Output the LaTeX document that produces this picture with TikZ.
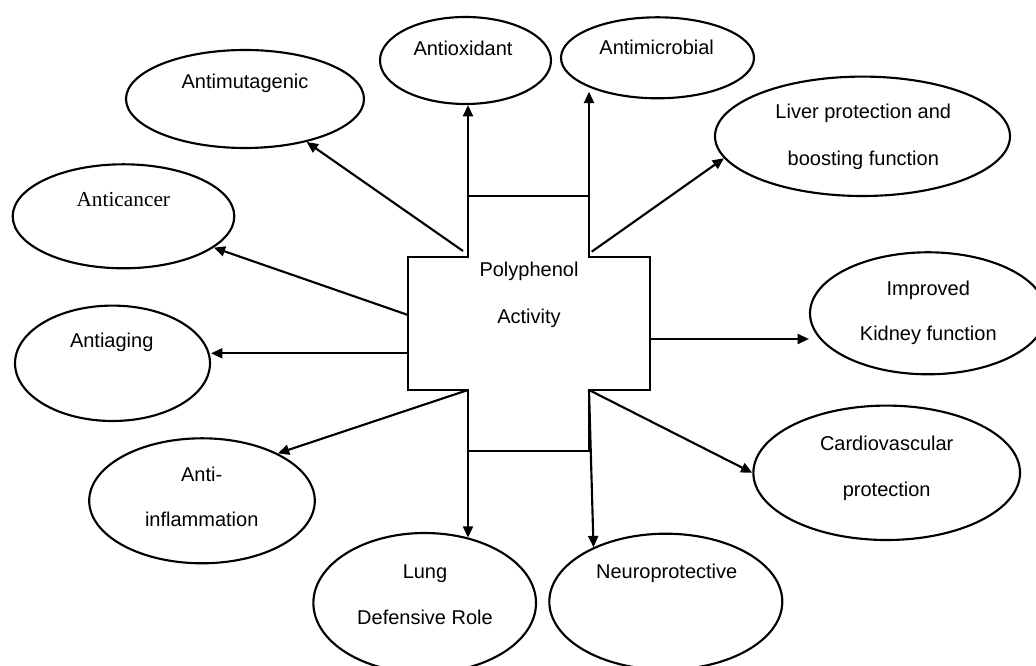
\documentclass[tikz,border=0pt]{standalone}
\usepackage{fontspec}
\setmainfont{Liberation Sans}
\newfontfamily\serifface{Liberation Serif}
\usetikzlibrary{shapes.geometric,arrows.meta}
\begin{document}
\begin{tikzpicture}[x=0.75pt,y=-0.75pt,
  bubble/.style={draw,ellipse,line width=1.6pt,inner sep=0pt},
  lbl/.style={font=\fontsize{15}{17}\selectfont,inner sep=0pt,anchor=base},
  conn/.style={line width=1.6pt,-{Triangle[length=8.5pt,width=7.5pt]}},
  crossline/.style={line width=1.8pt,line join=miter}]
\useasboundingbox (0,0) rectangle (1036,666);
% ellipses
\node[bubble,minimum width=128.25pt,minimum height=65.25pt] (antiox) at (465.5,60.5) {};
\node[bubble,minimum width=144.75pt,minimum height=60.75pt] (antimic) at (657.5,57.8) {};
\node[bubble,minimum width=178.5pt,minimum height=73.5pt] (antimut) at (245,99) {};
\node[bubble,minimum width=166.2pt,minimum height=78pt] (cancer) at (123.5,216.3) {};
\node[bubble,minimum width=146.25pt,minimum height=86.55pt] (aging) at (112.5,363.3) {};
\node[bubble,minimum width=169.2pt,minimum height=93.75pt] (infl) at (202,500.8) {};
\node[bubble,minimum width=167pt,minimum height=105pt] (lung) at (424.7,603) {};
\node[bubble,minimum width=174.75pt,minimum height=102pt] (neuro) at (665.8,601.7) {};
\node[bubble,minimum width=200pt,minimum height=100.8pt] (cardio) at (886.7,472.8) {};
\node[bubble,minimum width=177pt,minimum height=91.5pt] (kidney) at (928,313.3) {};
\node[bubble,minimum width=221.25pt,minimum height=89.55pt] (liver) at (862.5,136.3) {};
% labels
\node[lbl] (tantiox) at (463,55.3) {Antioxidant};
\node[lbl] (tantimic) at (656.7,54.7) {Antimicrobial};
\node[lbl] (tantimut) at (245,89) {Antimutagenic};
\node[lbl,font=\serifface\fontsize{16}{19}\selectfont] (tcancer) at (123.3,206.3) {Anticancer};
\node[lbl] (tliverA) at (863.3,118.7) {Liver protection and};
\node[lbl] (tliverB) at (863.3,165.3) {boosting function};
\node[lbl] (tkidA) at (928.3,295.3) {Improved};
\node[lbl] (tkidB) at (928.3,341) {Kidney function};
\node[lbl] (tcarA) at (886.7,450.3) {Cardiovascular};
\node[lbl] (tcarB) at (886.7,496.3) {protection};
\node[lbl] (tneuro) at (666.7,578.7) {Neuroprotective};
\node[lbl] (tlungA) at (425,578.7) {Lung};
\node[lbl] (tlungB) at (425,624.3) {Defensive Role};
\node[lbl] (tinflA) at (201.7,481.3) {Anti-};
\node[lbl] (tinflB) at (201.7,527) {inflammation};
\node[lbl] (taging) at (111.7,347.7) {Antiaging};
\node[lbl] (tpolyA) at (529,276.3) {Polyphenol};
\node[lbl] (tpolyB) at (529,323.7) {Activity};
% cross shape
\coordinate (c1) at (468,196);
\coordinate (c2) at (589,196);
\coordinate (c3) at (589,257);
\coordinate (c4) at (650,257);
\coordinate (c5) at (650,390);
\coordinate (c6) at (589,390);
\coordinate (c7) at (589,451);
\coordinate (c8) at (468,451);
\coordinate (c9) at (468,390);
\coordinate (c10) at (408,390);
\coordinate (c11) at (408,257);
\coordinate (c12) at (468,257);
\draw[crossline] (c1) -- (c2) -- (c3) -- (c4) -- (c5) -- (c6) -- (c7) -- (c8) -- (c9) -- (c10) -- (c11) -- (c12) -- cycle;
% start points
\coordinate (sMut) at (463,251);
\coordinate (sLiver) at (591.7,251.7);
\coordinate (sCancer) at (408,315);
\coordinate (sAging) at (408,353.3);
\coordinate (sKid) at (650,339);
% connectors
\draw[conn] (c12) -- (c12 |- antiox.south);
\draw[conn,shorten >=4pt] (c3) -- (c3 |- antimic.202.6);
\draw[conn] (sMut) -- (antimut);
\draw[conn] (sLiver) -- (liver.189);
\draw[conn] (sCancer) -- (cancer);
\draw[conn] (sAging) -- (sAging -| aging.east);
\draw[conn] (sKid) -- (sKid -| kidney.west);
\draw[conn] (c9) -- (infl.32);
\draw[conn] (c9) -- (c9 |- lung.56.4);
\draw[conn] (c6) -- (neuro.143.2);
\draw[conn] (c6) -- (cardio.west);
\end{tikzpicture}
\end{document}
